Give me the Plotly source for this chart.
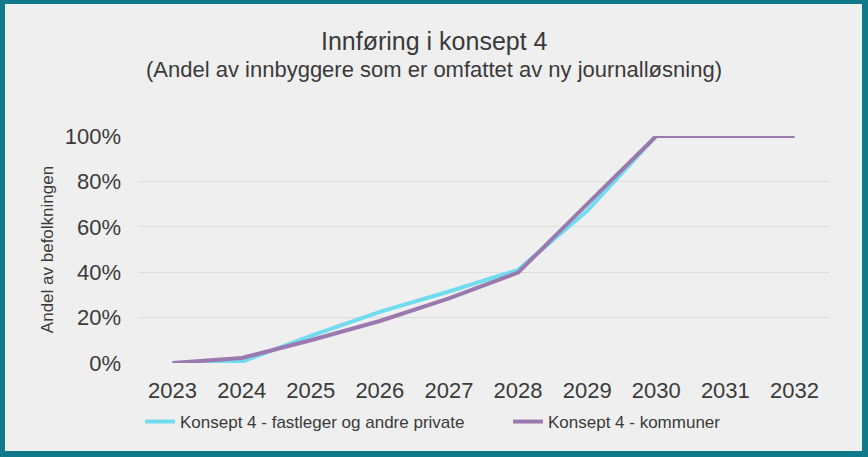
import plotly.graph_objects as go

years = ["2023", "2024", "2025", "2026", "2027", "2028", "2029", "2030", "2031", "2032"]
fastleger = [0.0, 0.005, 0.12, 0.225, 0.315, 0.41, 0.67, 1.0, 1.0, 1.0]
kommuner = [0.0, 0.022, 0.10, 0.185, 0.285, 0.398, 0.70, 1.0, 1.0, 1.0]

W, H = 868, 457
L, R, T, B = 138, 39, 136, 94
PW, PH = W - L - R, H - T - B

def px(x):
    return (x - L) / PW

def py(y):
    return (H - B - y) / PH

FONT = "Liberation Sans, Arial, sans-serif"
TEAL = "#10798a"
BG = "#efefef"
TXT = "#3a3a3a"

fig = go.Figure()
fig.add_trace(go.Scatter(x=years, y=fastleger, mode="lines", name="Konsept 4 - fastleger og andre private",
                         line=dict(color="#72dcef", width=4), cliponaxis=False, legend="legend"))
fig.add_trace(go.Scatter(x=years, y=kommuner, mode="lines", name="Konsept 4 - kommuner",
                         line=dict(color="#9a7aae", width=4), cliponaxis=False, legend="legend2"))

fig.add_shape(type="rect", xref="paper", yref="paper", x0=px(5), x1=px(862), y0=py(4), y1=py(451),
              fillcolor=BG, line=dict(width=0), layer="below")

fig.add_annotation(text="Innføring i konsept 4", xref="paper", yref="paper", x=px(434), y=py(41),
                   showarrow=False, font=dict(family=FONT, size=25, color=TXT), xanchor="center", yanchor="middle")
fig.add_annotation(text="(Andel av innbyggere som er omfattet av ny journalløsning)", xref="paper", yref="paper",
                   x=px(434), y=py(70), showarrow=False, font=dict(family=FONT, size=22, color=TXT),
                   xanchor="center", yanchor="middle")

leg_common = dict(orientation="h", xanchor="left", yanchor="top",
                  font=dict(family=FONT, size=17, color=TXT), bgcolor="rgba(0,0,0,0)", itemwidth=30)

fig.update_layout(
    width=W, height=H,
    margin=dict(l=L, r=R, t=T, b=B),
    paper_bgcolor=TEAL,
    plot_bgcolor="rgba(0,0,0,0)",
    font=dict(family=FONT, color=TXT),
    showlegend=True,
    legend=dict(x=px(140), y=py(404), **leg_common),
    legend2=dict(x=px(508), y=py(404), **leg_common),
)
fig.update_xaxes(type="category", range=[-0.5, 9.5], showgrid=False, zeroline=False, showline=False,
                 ticks="", ticklabelstandoff=12, tickfont=dict(family=FONT, size=22, color=TXT))
fig.update_yaxes(range=[0, 1], tickvals=[0, 0.2, 0.4, 0.6, 0.8, 1.0],
                 ticktext=["0%", "20%", "40%", "60%", "80%", "100%"],
                 showgrid=True, gridcolor="#dcdcdc", gridwidth=1, zeroline=False, showline=False,
                 ticks="", ticklabelstandoff=16,
                 tickfont=dict(family=FONT, size=22, color=TXT),
                 title=dict(text="Andel av befolkningen", font=dict(family=FONT, size=17, color=TXT), standoff=6))

fig.write_html("out.html", post_script="document.body.style.margin='0';",
               config={"displayModeBar": False})
